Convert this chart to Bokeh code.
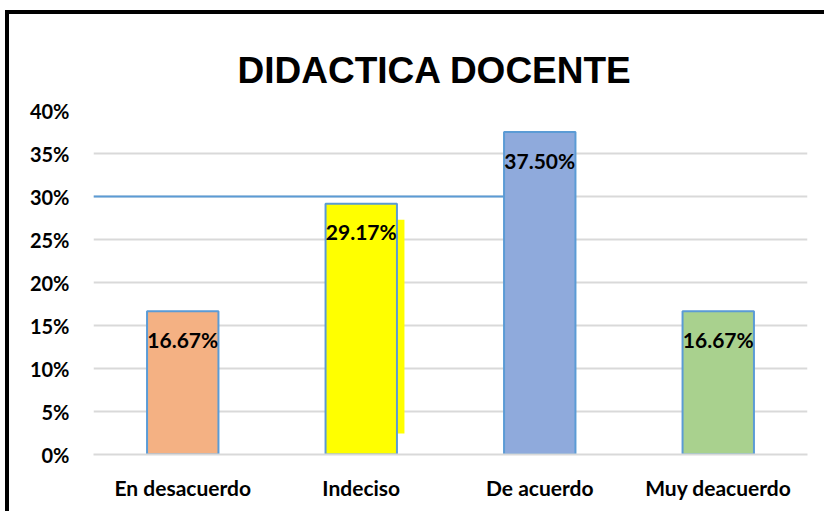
from bokeh.plotting import figure
from bokeh.layouts import column
from bokeh.models import ColumnDataSource, FactorRange, FixedTicker, NumeralTickFormatter, Title
from bokeh.core.properties import value
from bokeh.embed import file_html
from bokeh.resources import INLINE

# ---- data ----
categories = ["En desacuerdo", "Indeciso", "De acuerdo", "Muy deacuerdo"]
values = [0.1667, 0.2917, 0.3750, 0.1667]
labels = ["16.67%", "29.17%", "37.50%", "16.67%"]
colors = ["#F4B183", "#FFFF00", "#8FAADC", "#A9D18E"]
y_ticks = [0.0, 0.05, 0.10, 0.15, 0.20, 0.25, 0.30, 0.35, 0.40]
title_text = "DIDACTICA  DOCENTE"

# stray marks visible in the source picture
stray_line_y = [0.30]
stray_line_x0 = [0.0]
stray_line_x1 = [2.3]
stray_strip_left = [1.697]
stray_strip_right = [1.742]
stray_strip_bottom = [0.0244]
stray_strip_top = [0.273]

FONT = "Lato"

src = ColumnDataSource(dict(cat=categories, val=values, lab=labels, col=colors))

p = figure(
    x_range=FactorRange(*categories, range_padding=0),
    y_range=(0, 0.40),
    width=815, height=497,
    output_backend="svg", toolbar_location=None,
    min_border_left=84, min_border_right=17, min_border_top=96, min_border_bottom=57,
)
p.outline_line_color = None
p.background_fill_color = "white"
p.border_fill_color = "white"

t = Title(text=title_text, align="left", text_font="Liberation Sans",
          text_font_size="37px", text_font_style="bold", text_color="black",
          standoff=40, offset=144)
p.add_layout(t, "above")

# grid
p.xgrid.grid_line_color = None
p.ygrid.grid_line_color = "#D9D9D9"
p.ygrid.grid_line_width = 2
p.yaxis.ticker = FixedTicker(ticks=y_ticks)
p.yaxis.formatter = NumeralTickFormatter(format="0%")
p.yaxis.axis_line_color = None
p.yaxis.major_tick_line_color = None
p.yaxis.minor_tick_line_color = None
p.yaxis.major_label_text_font = FONT
p.yaxis.major_label_text_font_style = "bold"
p.yaxis.major_label_text_font_size = "20px"
p.yaxis.major_label_text_color = "black"
p.yaxis.major_label_standoff = 18

p.xaxis.axis_line_color = "#D9D9D9"
p.xaxis.axis_line_width = 2
p.xaxis.major_tick_line_color = None
p.xaxis.minor_tick_line_color = None
p.xaxis.major_label_text_font = FONT
p.xaxis.major_label_text_font_style = "bold"
p.xaxis.major_label_text_font_size = "21px"
p.xaxis.major_label_text_color = "black"
p.xaxis.major_label_standoff = 14

# stray marks
p.quad(left=stray_strip_left, right=stray_strip_right, bottom=stray_strip_bottom,
       top=stray_strip_top, fill_color="#FFFF00", line_color=None)

p.vbar(x="cat", top="val", width=0.4, source=src, fill_color="col",
       line_color="#5B9BD5", line_width=2)

p.segment(x0=stray_line_x0, x1=stray_line_x1, y0=stray_line_y, y1=stray_line_y,
          line_color="#5B9BD5", line_width=2)

p.text(x="cat", y="val", text="lab", source=src, text_align="center",
       text_baseline="middle", y_offset=28, text_font=value(FONT),
       text_font_style="bold", text_font_size="21px", text_color="black")

layout = column(p, margin=(14, 0, 0, 9),
                styles={"box-shadow": "-4px -4px 0 0 black, 0 -4px 0 0 black, -4px 0 0 0 black"})

open("out.html", "w").write(file_html(layout, INLINE))
